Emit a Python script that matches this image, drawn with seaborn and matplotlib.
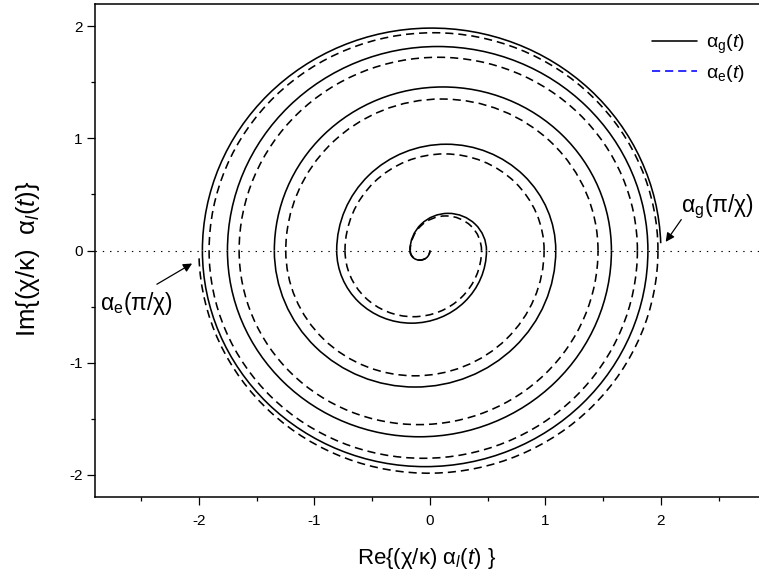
import numpy as np
import matplotlib
matplotlib.use("Agg")
import matplotlib.pyplot as plt
import seaborn as sns
from matplotlib.patches import Arc
from matplotlib.lines import Line2D

# ---- data (x-axis crossings of each spiral, in order along t) ----
# alpha_g(t): solid; starts at the origin, turns clockwise, ends just above the axis on the right
solid_crossings = [0.000, -0.173, 0.490, -0.807, 1.090, -1.347, 1.572, -1.753, 1.888, -1.970, 2.000]
solid_end_y = 0.065
# alpha_e(t): dashed; starts at the origin, turns clockwise, ends just below the axis on the left
dashed_crossings = [0.000, -0.170, 0.447, -0.735, 0.989, -1.248, 1.456, -1.652, 1.797, -1.912, 1.975, -2.000]
dashed_end_y = -0.070

x_ticks = [-2, -1, 0, 1, 2]
y_ticks = [-2, -1, 0, 1, 2]
x_minor = [-2.5, -1.5, -0.5, 0.5, 1.5, 2.5]
y_minor = [-1.5, -0.5, 0.5, 1.5]

legend_labels = ["α$_\\mathrm{g}$($t$)", "α$_\\mathrm{e}$($t$)"]
annot_g = "α$_\\mathrm{g}$(π/χ)"
annot_e = "α$_\\mathrm{e}$(π/χ)"
xlabel = "Re{(χ/κ) α$_{l}$($t$) }"
ylabel = "Im{(χ/κ)  α$_{l}$($t$)}"

# ---- style ----
sns.set_theme(style="ticks")
plt.rcParams["font.family"] = ["Liberation Sans", "DejaVu Sans"]
plt.rcParams["mathtext.fontset"] = "custom"
plt.rcParams["mathtext.rm"] = "Liberation Sans"
plt.rcParams["mathtext.it"] = "Liberation Sans:italic"
plt.rcParams["mathtext.bf"] = "Liberation Sans:bold"
plt.rcParams["text.color"] = "black"
plt.rcParams["axes.labelcolor"] = "black"
plt.rcParams["xtick.color"] = "black"
plt.rcParams["ytick.color"] = "black"

fig = plt.figure(figsize=(7.59, 5.81), dpi=100)
ax = fig.add_axes([95 / 759, 1 - 497 / 581, 664 / 759, 493 / 581])
ax.set_facecolor("white")

LW = 1.15
DASH = (0, (5.1, 3.1))


def draw_spiral(ax, crossings, end_y, **kw):
    n = len(crossings) - 1
    for i in range(n):
        a, b = crossings[i], crossings[i + 1]
        c = 0.5 * (a + b)
        r = 0.5 * abs(b - a)
        trim = np.degrees(np.arcsin(abs(end_y) / r)) if i == n - 1 else 0.0
        if a > b:   # right -> bottom -> left (clockwise)
            t1, t2 = 180.0 + trim, 360.0
        else:       # left -> top -> right (clockwise)
            t1, t2 = 0.0 + trim, 180.0
        ax.add_patch(Arc((c, 0.0), 2 * r, 2 * r, theta1=t1, theta2=t2, **kw))


ax.axhline(0, color="black", lw=0.8, linestyle=(0, (1.25, 5.3)), zorder=1)
draw_spiral(ax, dashed_crossings, dashed_end_y, color="black", lw=LW, linestyle=DASH, zorder=2)
draw_spiral(ax, solid_crossings, solid_end_y, color="black", lw=LW, zorder=3)

ax.set_xlim(-2.9, 2.85)
ax.set_ylim(-2.2, 2.2)
ax.set_xticks(x_ticks)
ax.set_yticks(y_ticks)
ax.set_xticks(x_minor, minor=True)
ax.set_yticks(y_minor, minor=True)
ax.set_xticklabels([str(v) for v in x_ticks])
ax.set_yticklabels([str(v) for v in y_ticks])
ax.tick_params(which="major", length=6, width=0.9, direction="out", labelsize=11)
ax.tick_params(which="minor", length=3, width=0.9, direction="out")
ax.tick_params(axis="x", which="major", pad=6)
ax.tick_params(axis="y", which="major", pad=3)
ax.tick_params(top=False, right=False, which="both")

sns.despine(ax=ax, top=False, right=True)
for s in ["left", "bottom", "top"]:
    ax.spines[s].set_linewidth(1.1)
    ax.spines[s].set_color("black")

ax.set_xlabel(xlabel, fontsize=16)
ax.set_ylabel(ylabel, fontsize=18.5)
ax.xaxis.set_label_coords(0.5, -0.100)
ax.yaxis.set_label_coords(-0.080, 0.483)

handles = [Line2D([], [], color="black", lw=LW),
           Line2D([], [], color="blue", lw=LW, linestyle=DASH)]
ax.legend(handles, legend_labels, loc="upper right", bbox_to_anchor=(0.979, 0.942),
          frameon=False, borderpad=0, borderaxespad=0, handlelength=2.3,
          handletextpad=0.5, labelspacing=0.35, fontsize=14)

ax.text(2.177, 0.342, annot_g, fontsize=16.5, ha="left", va="baseline")
ax.text(-2.855, -0.533, annot_e, fontsize=16.5, ha="left", va="baseline")
arrow = dict(arrowstyle="-|>", color="black", lw=0.9, mutation_scale=13, shrinkA=0, shrinkB=0)
ax.annotate("", xy=(2.042, 0.077), xytext=(2.177, 0.276), arrowprops=arrow)
ax.annotate("", xy=(-2.059, -0.116), xytext=(-2.364, -0.301), arrowprops=arrow)

fig.savefig("out.png", dpi=100)
